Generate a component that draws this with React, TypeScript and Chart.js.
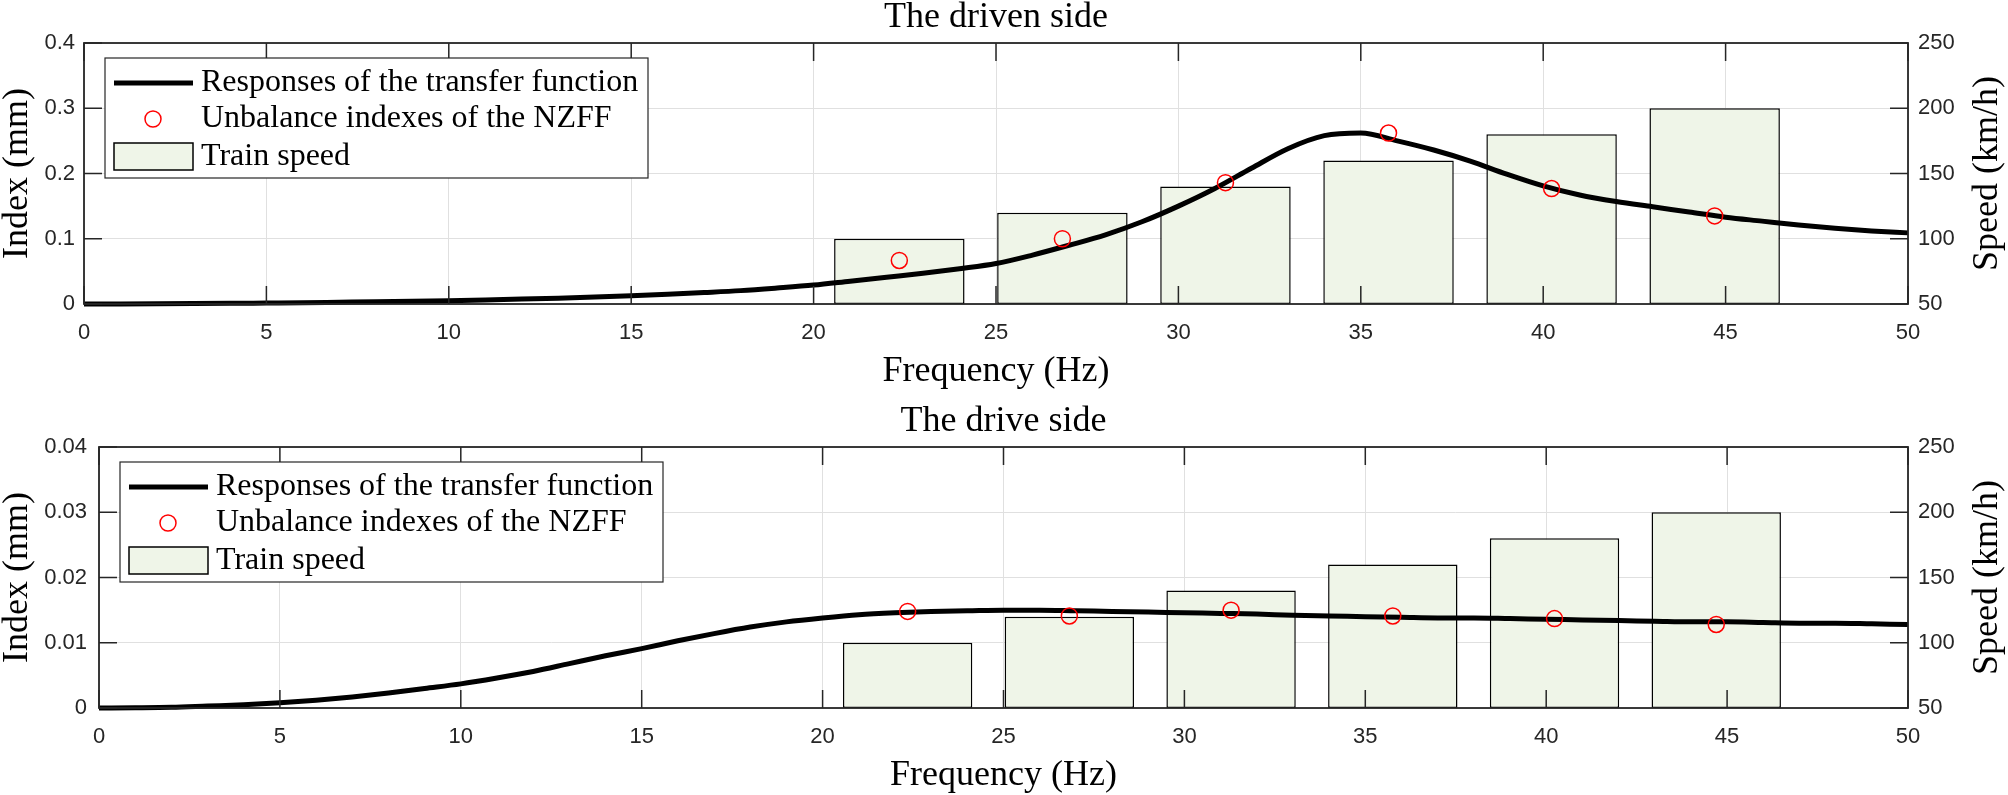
import React, { useEffect, useRef } from 'react';
import { Chart, registerables } from 'chart.js';

Chart.register(...registerables);

// ---------- data ----------
const frequencyTicks = [0, 5, 10, 15, 20, 25, 30, 35, 40, 45, 50];
const speedTicks = [50, 100, 150, 200, 250];
const drivenIndexTicks = [0, 0.1, 0.2, 0.3, 0.4];
const driveIndexTicks = [0, 0.01, 0.02, 0.03, 0.04];

const curveFrequency = [
  0, 1, 2, 3, 4, 5, 6, 7, 8, 9, 10, 11, 12, 13, 14, 15, 16, 17, 18, 19, 20, 21, 22, 23, 24, 25,
  26, 27, 28, 29, 30, 31, 32, 33, 34, 35, 36, 37, 38, 39, 40, 41, 42, 43, 44, 45, 46, 47, 48, 49, 50,
];
const drivenResponse = [
  0, 0.0001, 0.0003, 0.0006, 0.001, 0.0015, 0.002, 0.0027, 0.0034, 0.0042, 0.0051, 0.0062, 0.0075,
  0.009, 0.0107, 0.0127, 0.015, 0.0176, 0.0205, 0.0245, 0.029, 0.035, 0.041, 0.047, 0.054, 0.062,
  0.075, 0.09, 0.106, 0.126, 0.15, 0.177, 0.208, 0.238, 0.258, 0.262, 0.25, 0.236, 0.219, 0.199,
  0.181, 0.167, 0.157, 0.149, 0.141, 0.133, 0.127, 0.121, 0.116, 0.112, 0.109,
];
const driveResponse = [
  0, 0.00003, 0.0001, 0.0003, 0.0005, 0.0008, 0.0012, 0.0017, 0.0023, 0.003, 0.0037, 0.0046, 0.0056,
  0.0068, 0.008, 0.0091, 0.0103, 0.0114, 0.0124, 0.0132, 0.0138, 0.0143, 0.0146, 0.0148, 0.0149,
  0.015, 0.015, 0.0149, 0.0148, 0.0147, 0.0146, 0.0145, 0.0144, 0.0142, 0.0141, 0.014, 0.0139,
  0.0138, 0.0138, 0.0137, 0.0136, 0.0135, 0.0134, 0.0133, 0.0132, 0.0132, 0.0131, 0.013, 0.013,
  0.0129, 0.0128,
];

const trainSpeeds = [100, 120, 140, 160, 180, 200];
const excitationFrequency = [22.35, 26.82, 31.29, 35.76, 40.23, 44.7];
const drivenUnbalance = [0.0667, 0.1, 0.186, 0.262, 0.177, 0.135];
const driveUnbalance = [0.0148, 0.0141, 0.015, 0.0141, 0.0137, 0.0128];

const legendLabels = [
  'Responses of the transfer function',
  'Unbalance indexes of the NZFF',
  'Train speed',
];

// ---------- styles ----------
const SERIF = '"Liberation Serif", "Times New Roman", serif';
const SANS = '"Liberation Sans", Arial, sans-serif';
const AXIS_COLOR = '#262626';
const GRID_COLOR = '#e0e0e0';
const BAR_FILL = '#eff5e8';
const W = 2008;

type PanelProps = {
  title: string;
  indexTicks: number[];
  response: number[];
  unbalance: number[];
  height: number;
  plotTop: number;
  plotBottom: number;
  leftWidth: number;
  yPad: number;
};

const fmt = (v: number) => String(+Number(v).toFixed(4));

function Panel(p: PanelProps) {
  const ref = useRef<HTMLCanvasElement | null>(null);
  useEffect(() => {
    const canvas = ref.current;
    if (!canvas) return;
    const decor = {
      id: 'decor',
      afterDatasetsDraw(chart: any) {
        const { ctx, chartArea: a, scales } = chart;
        ctx.save();
        const TL = 18;
        ctx.strokeStyle = AXIS_COLOR;
        ctx.lineWidth = 1.5;
        ctx.beginPath();
        for (const v of frequencyTicks) {
          const x = scales.x.getPixelForValue(v);
          ctx.moveTo(x, a.bottom);
          ctx.lineTo(x, a.bottom - TL);
          ctx.moveTo(x, a.top);
          ctx.lineTo(x, a.top + TL);
        }
        for (const v of p.indexTicks) {
          const y = scales.y.getPixelForValue(v);
          ctx.moveTo(a.left, y);
          ctx.lineTo(a.left + TL, y);
        }
        for (const v of speedTicks) {
          const y = scales.y2.getPixelForValue(v);
          ctx.moveTo(a.right, y);
          ctx.lineTo(a.right - TL, y);
        }
        ctx.stroke();
        ctx.lineWidth = 1.8;
        ctx.strokeRect(a.left, a.top, a.right - a.left, a.bottom - a.top);

        // legend
        const L = a.left + 21;
        const T = a.top + 15;
        const LW = 543;
        const LH = 120;
        ctx.fillStyle = '#ffffff';
        ctx.fillRect(L, T, LW, LH);
        ctx.lineWidth = 1.2;
        ctx.strokeStyle = AXIS_COLOR;
        ctx.strokeRect(L, T, LW, LH);
        const rows = [T + 25, T + 61, T + 99];
        ctx.strokeStyle = '#000';
        ctx.lineWidth = 5;
        ctx.beginPath();
        ctx.moveTo(L + 9, rows[0]);
        ctx.lineTo(L + 88, rows[0]);
        ctx.stroke();
        ctx.strokeStyle = '#ff0000';
        ctx.lineWidth = 1.5;
        ctx.beginPath();
        ctx.arc(L + 48, rows[1], 8, 0, Math.PI * 2);
        ctx.stroke();
        ctx.fillStyle = BAR_FILL;
        ctx.fillRect(L + 9, rows[2] - 14, 79, 27);
        ctx.strokeStyle = '#000';
        ctx.lineWidth = 1.5;
        ctx.strokeRect(L + 9, rows[2] - 14, 79, 27);
        ctx.fillStyle = '#000';
        ctx.font = `32px ${SERIF}`;
        ctx.textAlign = 'left';
        ctx.textBaseline = 'middle';
        legendLabels.forEach((t, i) => ctx.fillText(t, L + 96, rows[i]));

        // titles
        const cx = (a.left + a.right) / 2;
        ctx.font = `36px ${SERIF}`;
        ctx.textAlign = 'center';
        ctx.fillText(p.title, cx, a.top - 25);
        ctx.fillText('Frequency (Hz)', cx, a.bottom + 68);
        const cy = (a.top + a.bottom) / 2;
        ctx.save();
        ctx.translate(18, cy);
        ctx.rotate(-Math.PI / 2);
        ctx.fillText('Index (mm)', 0, 0);
        ctx.restore();
        ctx.save();
        ctx.translate(1988, cy);
        ctx.rotate(-Math.PI / 2);
        ctx.fillText('Speed (km/h)', 0, 0);
        ctx.restore();
        ctx.restore();
      },
    };

    const tickFont = { family: SANS, size: 22 };
    const chart = new Chart(canvas, {
      type: 'bar',
      data: {
        datasets: [
          {
            type: 'line',
            label: legendLabels[1],
            data: excitationFrequency.map((f, i) => ({ x: f, y: p.unbalance[i] })),
            yAxisID: 'y',
            showLine: false,
            pointRadius: 8,
            pointHoverRadius: 8,
            pointBorderColor: '#ff0000',
            pointBackgroundColor: 'rgba(0,0,0,0)',
            pointBorderWidth: 1.5,
            order: 1,
          } as any,
          {
            type: 'line',
            label: legendLabels[0],
            data: curveFrequency.map((f, i) => ({ x: f, y: p.response[i] })),
            yAxisID: 'y',
            borderColor: '#000',
            borderWidth: 5,
            pointRadius: 0,
            fill: false,
            cubicInterpolationMode: 'monotone',
            clip: 4,
            order: 2,
          } as any,
          {
            type: 'bar',
            label: legendLabels[2],
            data: excitationFrequency.map((f, i) => ({ x: f, y: trainSpeeds[i] })),
            yAxisID: 'y2',
            backgroundColor: BAR_FILL,
            borderColor: '#000',
            borderWidth: 1.5,
            borderSkipped: false,
            barPercentage: 0.8,
            categoryPercentage: 1,
            base: 50,
            order: 3,
          } as any,
        ],
      },
      options: {
        responsive: false,
        maintainAspectRatio: false,
        devicePixelRatio: 1,
        animation: false,
        layout: { padding: { top: p.plotTop, left: 0, right: 0, bottom: 0 } },
        plugins: { legend: { display: false }, title: { display: false }, tooltip: { enabled: false } },
        scales: {
          x: {
            type: 'linear',
            position: 'bottom',
            offset: false,
            min: 0,
            max: 50,
            afterBuildTicks: (s: any) => {
              s.ticks = frequencyTicks.map((v) => ({ value: v }));
            },
            afterFit: (s: any) => {
              s.height = p.height - p.plotBottom;
            },
            ticks: {
              font: tickFont,
              color: AXIS_COLOR,
              padding: 16,
              maxRotation: 0,
              autoSkip: false,
              callback: (v: any) => fmt(v),
            },
            grid: { color: GRID_COLOR, lineWidth: 1, drawTicks: false, offset: false },
            border: { display: false },
          },
          y: {
            type: 'linear',
            position: 'left',
            min: 0,
            max: p.indexTicks[p.indexTicks.length - 1],
            afterBuildTicks: (s: any) => {
              s.ticks = p.indexTicks.map((v) => ({ value: v }));
            },
            afterFit: (s: any) => {
              s.width = p.leftWidth;
            },
            ticks: {
              font: tickFont,
              color: AXIS_COLOR,
              padding: p.yPad,
              callback: (v: any) => fmt(v),
            },
            grid: { color: GRID_COLOR, lineWidth: 1, drawTicks: false },
            border: { display: false },
          },
          y2: {
            type: 'linear',
            position: 'right',
            min: 50,
            max: 250,
            afterBuildTicks: (s: any) => {
              s.ticks = speedTicks.map((v) => ({ value: v }));
            },
            afterFit: (s: any) => {
              s.width = W - 1908;
            },
            ticks: {
              font: tickFont,
              color: AXIS_COLOR,
              padding: 10,
              callback: (v: any) => fmt(v),
            },
            grid: { display: false, drawTicks: false },
            border: { display: false },
          },
        },
      } as any,
      plugins: [decor],
    });
    return () => chart.destroy();
  }, []);
  return (
    <canvas
      ref={ref}
      width={W}
      height={p.height}
      style={{ display: 'block', width: W, height: p.height }}
    />
  );
}

export default function App() {
  return (
    <div style={{ position: 'absolute', left: 0, top: 0, width: W, height: 795, background: '#fff' }}>
      <Panel
        title="The driven side"
        indexTicks={drivenIndexTicks}
        response={drivenResponse}
        unbalance={drivenUnbalance}
        height={397}
        plotTop={43}
        plotBottom={304}
        leftWidth={84}
        yPad={9}
      />
      <Panel
        title="The drive side"
        indexTicks={driveIndexTicks}
        response={driveResponse}
        unbalance={driveUnbalance}
        height={398}
        plotTop={50}
        plotBottom={311}
        leftWidth={99}
        yPad={12}
      />
    </div>
  );
}
